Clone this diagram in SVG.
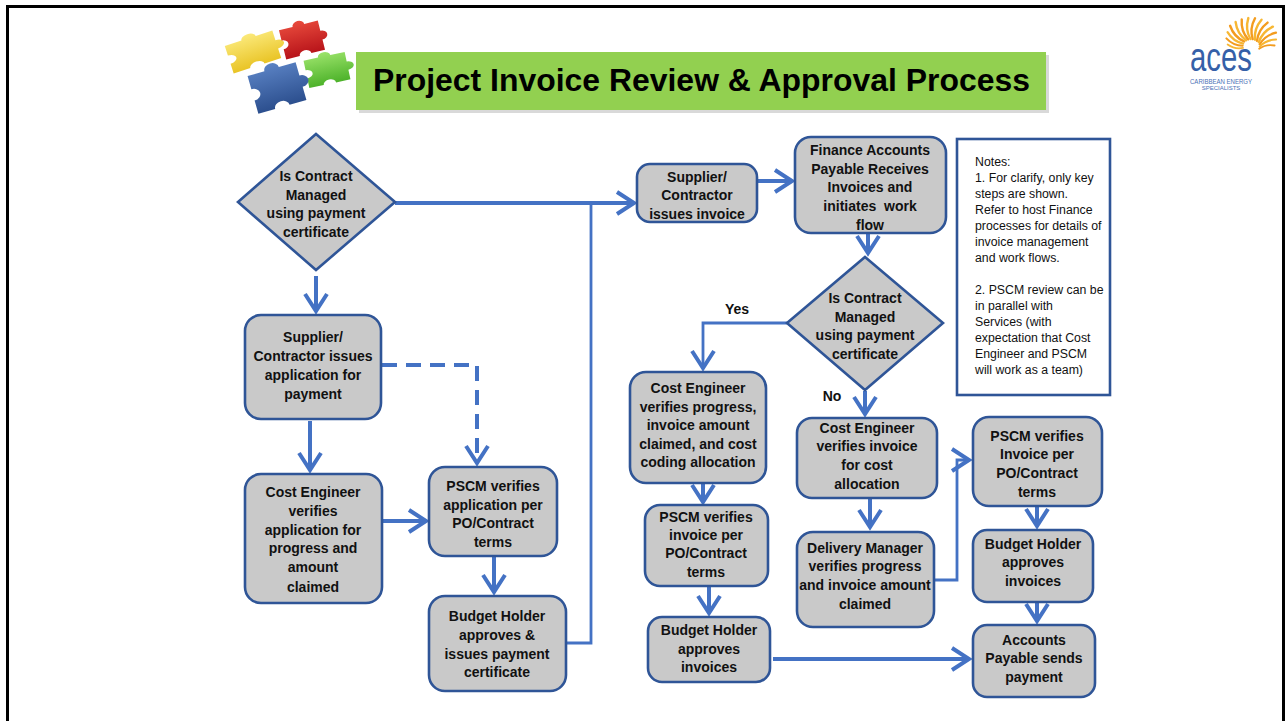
<svg xmlns="http://www.w3.org/2000/svg" xmlns:xlink="http://www.w3.org/1999/xlink" width="1286" height="721" viewBox="0 0 1286 721">
  <style>
    .box { fill: #C9C9C9; stroke: #2F5597; stroke-width: 2.6; }
    .lbl { font-family: "Liberation Sans", Arial, sans-serif; font-weight: bold; font-size: 14px; fill: #111; text-anchor: middle; }
    .note { font-family: "Liberation Sans", Arial, sans-serif; font-size: 12.3px; fill: #111; }
    .conn { fill: none; stroke: #4472C4; stroke-width: 4; }
    .thin { stroke-width: 2.8; }
    .ray { fill: none; stroke-width: 2.4; stroke-linecap: round; }
  </style>
  <defs>
    <marker id="ah" markerUnits="userSpaceOnUse" viewBox="-22 -14 27 28" markerWidth="27" markerHeight="28" refX="0" refY="0" orient="auto">
      <path d="M-17,-11 L0,0 L-17,11" fill="none" stroke="#4472C4" stroke-width="4"/>
    </marker>
    <path id="piece" d="M0,0 H14 A6,6 0 1,1 26,0 H40 V14 A6,6 0 1,1 40,26 V40 H26 A6,6 0 1,0 14,40 H0 V26 A6,6 0 1,0 0,14 Z"/>
    <path id="ray" d="M11,0 Q21,-5 32,-1"/>
    <linearGradient id="gY" x1="0" y1="0" x2="0" y2="1"><stop offset="0" stop-color="#FBE97A"/><stop offset="1" stop-color="#E9C426"/></linearGradient>
    <linearGradient id="gR" x1="0" y1="0" x2="0" y2="1"><stop offset="0" stop-color="#E84A3C"/><stop offset="1" stop-color="#B8141A"/></linearGradient>
    <linearGradient id="gB" x1="0" y1="0" x2="0" y2="1"><stop offset="0" stop-color="#5A82C4"/><stop offset="1" stop-color="#2C4F8E"/></linearGradient>
    <linearGradient id="gG" x1="0" y1="0" x2="0" y2="1"><stop offset="0" stop-color="#9BE36A"/><stop offset="1" stop-color="#4DB22A"/></linearGradient>
  </defs>

  <rect width="1286" height="721" fill="#FFFFFF"/>
  <!-- slide frame -->
  <path d="M7.5,725 V6.5 H1283.5 V725" fill="none" stroke="#000" stroke-width="3"/>

  <!-- puzzle pieces -->
  <g id="puzzle">
    <use xlink:href="#piece" fill="url(#gY)" transform="translate(253,52) rotate(-18) scale(1.25,0.72) translate(-20,-20)"/>
    <use xlink:href="#piece" fill="url(#gR)" transform="translate(302,40) rotate(-14) scale(1.0,0.75) translate(-20,-20)"/>
    <use xlink:href="#piece" fill="url(#gG)" transform="translate(327,70) rotate(-12) scale(1.05,0.7) translate(-20,-20)"/>
    <use xlink:href="#piece" fill="url(#gB)" transform="translate(277,88) rotate(-16) scale(1.25,0.98) translate(-20,-20)"/>
  </g>

  <!-- title bar -->
  <g id="title">
    <rect x="359" y="55" width="690" height="58" fill="#BFBFBF" opacity="0.6"/>
    <rect x="356" y="52" width="690" height="58" fill="#92D050"/>
    <text x="373" y="91" font-family="'Liberation Sans', Arial, sans-serif" font-weight="bold" font-size="31" fill="#000" textLength="657" lengthAdjust="spacingAndGlyphs">Project Invoice Review &amp; Approval Process</text>
  </g>

  <!-- company logo -->
  <g id="logo">
    <g transform="translate(1251,50)">
      <use xlink:href="#ray" class="ray" stroke="#F7B733" transform="rotate(195) scale(0.75)"/>
      <use xlink:href="#ray" class="ray" stroke="#F39C1F" transform="rotate(207) scale(0.85)"/>
      <use xlink:href="#ray" class="ray" stroke="#F7B733" transform="rotate(219) scale(0.92)"/>
      <use xlink:href="#ray" class="ray" stroke="#F39C1F" transform="rotate(231)"/>
      <use xlink:href="#ray" class="ray" stroke="#F7B733" transform="rotate(243)"/>
      <use xlink:href="#ray" class="ray" stroke="#F39C1F" transform="rotate(255)"/>
      <use xlink:href="#ray" class="ray" stroke="#F7B733" transform="rotate(267)"/>
      <use xlink:href="#ray" class="ray" stroke="#F39C1F" transform="rotate(279)"/>
      <use xlink:href="#ray" class="ray" stroke="#F7B733" transform="rotate(291)"/>
      <use xlink:href="#ray" class="ray" stroke="#F39C1F" transform="rotate(303)"/>
      <use xlink:href="#ray" class="ray" stroke="#F7B733" transform="rotate(315)"/>
      <use xlink:href="#ray" class="ray" stroke="#F39C1F" transform="rotate(327) scale(0.95)"/>
      <use xlink:href="#ray" class="ray" stroke="#F7B733" transform="rotate(339) scale(0.85)"/>
      <use xlink:href="#ray" class="ray" stroke="#F39C1F" transform="rotate(351) scale(0.75)"/>
    </g>
    <text x="1190" y="71" font-family="'Liberation Sans', Arial, sans-serif" font-size="40" fill="#3560A8" textLength="62" lengthAdjust="spacingAndGlyphs">aces</text>
    <text x="1221" y="83.5" font-family="'Liberation Sans', Arial, sans-serif" font-size="6.5" fill="#4A70B6" text-anchor="middle" textLength="62" lengthAdjust="spacingAndGlyphs">CARIBBEAN ENERGY</text>
    <text x="1221" y="90" font-family="'Liberation Sans', Arial, sans-serif" font-size="6" fill="#4A70B6" text-anchor="middle">SPECIALISTS</text>
  </g>

  <!-- connectors -->
  <g id="connectors">
    <path class="conn" d="M395,203 H634" marker-end="url(#ah)"/>
    <path class="conn thin" d="M566,643 H591 V204"/>
    <path class="conn" d="M316,276 V311" marker-end="url(#ah)"/>
    <path class="conn" d="M310,421 V470" marker-end="url(#ah)"/>
    <path class="conn" d="M382,365 H477 V463" stroke-dasharray="15 9" marker-end="url(#ah)"/>
    <path class="conn" d="M383,521 H426" marker-end="url(#ah)"/>
    <path class="conn" d="M494,557 V592" marker-end="url(#ah)"/>
    <path class="conn" d="M758,181 H792" marker-end="url(#ah)"/>
    <path class="conn" d="M868,234 V253" marker-end="url(#ah)"/>
    <path class="conn thin" d="M787,323 H703 V368" marker-end="url(#ah)"/>
    <path class="conn" d="M865,391 V414" marker-end="url(#ah)"/>
    <path class="conn" d="M703,484 V502" marker-end="url(#ah)"/>
    <path class="conn" d="M709,587 V613" marker-end="url(#ah)"/>
    <path class="conn" d="M773,659 H969" marker-end="url(#ah)"/>
    <path class="conn" d="M870,499 V527" marker-end="url(#ah)"/>
    <path class="conn thin" d="M935,580 H957 V460 H969" marker-end="url(#ah)"/>
    <path class="conn" d="M1037,507 V526" marker-end="url(#ah)"/>
    <path class="conn" d="M1037,603 V621" marker-end="url(#ah)"/>
  </g>

  <!-- left column -->
  <g id="decision-contract-1">
    <polygon class="box" points="316,134 395,202 316,270 238,202"/>
    <text class="lbl" x="316" y="181">Is Contract</text>
    <text class="lbl" x="316" y="200">Managed</text>
    <text class="lbl" x="316" y="218">using payment</text>
    <text class="lbl" x="316" y="237">certificate</text>
  </g>
  <g id="supplier-application">
    <rect class="box" x="245" y="315" width="136" height="104" rx="16"/>
    <text class="lbl" x="313" y="342">Supplier/</text>
    <text class="lbl" x="313" y="361">Contractor issues</text>
    <text class="lbl" x="313" y="380">application for</text>
    <text class="lbl" x="313" y="399">payment</text>
  </g>
  <g id="cost-engineer-application">
    <rect class="box" x="245" y="474" width="137" height="129" rx="16"/>
    <text class="lbl" x="313" y="497">Cost Engineer</text>
    <text class="lbl" x="313" y="516">verifies</text>
    <text class="lbl" x="313" y="535">application for</text>
    <text class="lbl" x="313" y="553">progress and</text>
    <text class="lbl" x="313" y="572">amount</text>
    <text class="lbl" x="313" y="592">claimed</text>
  </g>
  <g id="pscm-application">
    <rect class="box" x="429" y="467" width="128" height="89" rx="16"/>
    <text class="lbl" x="493" y="491">PSCM verifies</text>
    <text class="lbl" x="493" y="510">application per</text>
    <text class="lbl" x="493" y="528">PO/Contract</text>
    <text class="lbl" x="493" y="547">terms</text>
  </g>
  <g id="budget-holder-certificate">
    <rect class="box" x="429" y="596" width="137" height="95" rx="16"/>
    <text class="lbl" x="497" y="621">Budget Holder</text>
    <text class="lbl" x="497" y="640">approves &amp;</text>
    <text class="lbl" x="497" y="659">issues payment</text>
    <text class="lbl" x="497" y="677">certificate</text>
  </g>

  <!-- invoice route -->
  <g id="supplier-invoice">
    <rect class="box" x="637" y="164" width="120" height="58" rx="13"/>
    <text class="lbl" x="697" y="182">Supplier/</text>
    <text class="lbl" x="697" y="200">Contractor</text>
    <text class="lbl" x="697" y="219">issues invoice</text>
  </g>
  <g id="finance-ap">
    <rect class="box" x="795" y="137" width="151" height="96" rx="16"/>
    <text class="lbl" x="870" y="155">Finance Accounts</text>
    <text class="lbl" x="870" y="174">Payable Receives</text>
    <text class="lbl" x="870" y="192">Invoices and</text>
    <text class="lbl" x="870" y="211" xml:space="preserve">initiates  work</text>
    <text class="lbl" x="870" y="230">flow</text>
  </g>
  <g id="decision-contract-2">
    <polygon class="box" points="865,257 943,323 865,390 787,323"/>
    <text class="lbl" x="865" y="303">Is Contract</text>
    <text class="lbl" x="865" y="322">Managed</text>
    <text class="lbl" x="865" y="340">using payment</text>
    <text class="lbl" x="865" y="359">certificate</text>
  </g>
  <g id="branch-labels">
    <text class="lbl" x="737" y="314">Yes</text>
    <text class="lbl" x="832" y="401">No</text>
  </g>
  <g id="cost-engineer-progress">
    <rect class="box" x="630" y="372" width="136" height="111" rx="16"/>
    <text class="lbl" x="698" y="393">Cost Engineer</text>
    <text class="lbl" x="698" y="412">verifies progress,</text>
    <text class="lbl" x="698" y="430">invoice amount</text>
    <text class="lbl" x="698" y="449">claimed, and cost</text>
    <text class="lbl" x="698" y="467">coding allocation</text>
  </g>
  <g id="pscm-invoice-yes">
    <rect class="box" x="645" y="505" width="123" height="81" rx="15"/>
    <text class="lbl" x="706" y="522">PSCM verifies</text>
    <text class="lbl" x="706" y="540">invoice per</text>
    <text class="lbl" x="706" y="558">PO/Contract</text>
    <text class="lbl" x="706" y="577">terms</text>
  </g>
  <g id="budget-holder-yes">
    <rect class="box" x="648" y="617" width="122" height="65" rx="14"/>
    <text class="lbl" x="709" y="635">Budget Holder</text>
    <text class="lbl" x="709" y="654">approves</text>
    <text class="lbl" x="709" y="672">invoices</text>
  </g>
  <g id="cost-engineer-allocation">
    <rect class="box" x="797" y="418" width="140" height="80" rx="15"/>
    <text class="lbl" x="867" y="433">Cost Engineer</text>
    <text class="lbl" x="867" y="451">verifies invoice</text>
    <text class="lbl" x="867" y="470">for cost</text>
    <text class="lbl" x="867" y="489">allocation</text>
  </g>
  <g id="delivery-manager">
    <rect class="box" x="797" y="532" width="137" height="95" rx="16"/>
    <text class="lbl" x="865" y="553">Delivery Manager</text>
    <text class="lbl" x="865" y="571">verifies progress</text>
    <text class="lbl" x="865" y="590">and invoice amount</text>
    <text class="lbl" x="865" y="609">claimed</text>
  </g>
  <g id="pscm-invoice-no">
    <rect class="box" x="973" y="417" width="129" height="89" rx="16"/>
    <text class="lbl" x="1037" y="441">PSCM verifies</text>
    <text class="lbl" x="1037" y="459">Invoice per</text>
    <text class="lbl" x="1037" y="478">PO/Contract</text>
    <text class="lbl" x="1037" y="497">terms</text>
  </g>
  <g id="budget-holder-no">
    <rect class="box" x="973" y="530" width="120" height="72" rx="14"/>
    <text class="lbl" x="1033" y="549">Budget Holder</text>
    <text class="lbl" x="1033" y="567">approves</text>
    <text class="lbl" x="1033" y="586">invoices</text>
  </g>
  <g id="accounts-payable">
    <rect class="box" x="973" y="625" width="122" height="72" rx="14"/>
    <text class="lbl" x="1034" y="645">Accounts</text>
    <text class="lbl" x="1034" y="663">Payable sends</text>
    <text class="lbl" x="1034" y="682">payment</text>
  </g>

  <!-- notes -->
  <g id="notes">
    <rect x="957" y="139" width="153" height="256" fill="#FFFFFF" stroke="#2F5597" stroke-width="2.6"/>
    <text class="note" x="975" y="166">Notes:</text>
    <text class="note" x="975" y="182">1. For clarify, only key</text>
    <text class="note" x="975" y="198">steps are shown.</text>
    <text class="note" x="975" y="214">Refer to host Finance</text>
    <text class="note" x="975" y="230">processes for details of</text>
    <text class="note" x="975" y="246">invoice management</text>
    <text class="note" x="975" y="262">and work flows.</text>
    <text class="note" x="975" y="294">2. PSCM review can be</text>
    <text class="note" x="975" y="310">in parallel with</text>
    <text class="note" x="975" y="326">Services (with</text>
    <text class="note" x="975" y="342">expectation that Cost</text>
    <text class="note" x="975" y="358">Engineer and PSCM</text>
    <text class="note" x="975" y="374">will work as a team)</text>
  </g>
</svg>
